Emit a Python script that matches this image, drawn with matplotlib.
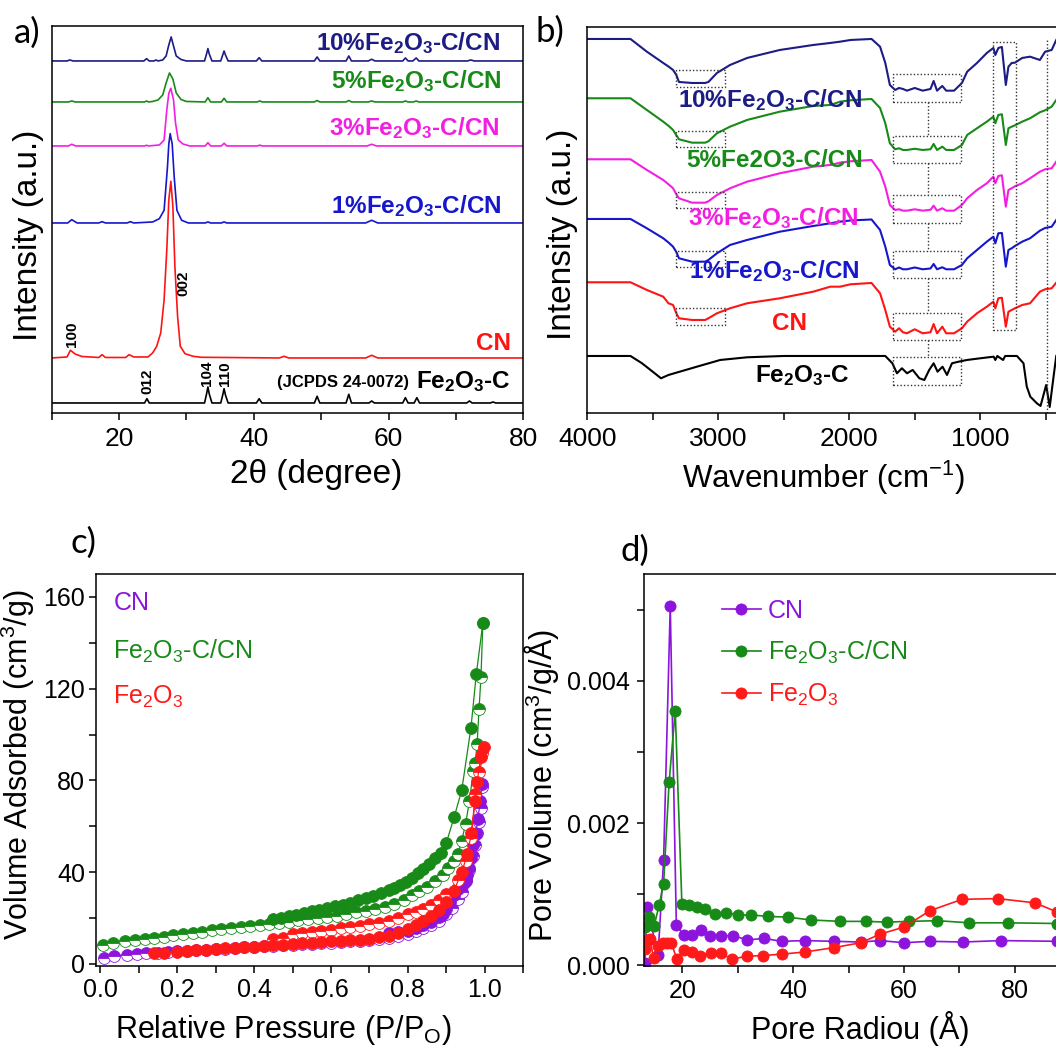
import numpy as np
import matplotlib
matplotlib.use("Agg")
import matplotlib.pyplot as plt
from matplotlib.ticker import MultipleLocator, FormatStrFormatter

plt.rcParams['font.family'] = ['Liberation Sans', 'DejaVu Sans']
plt.rcParams['mathtext.default'] = 'regular'

# ---------------- a) XRD ----------------
tt_10 = [10, 12.3, 12.7, 13.2, 23.7, 24.1, 24.5, 25.2, 25.5, 25.8, 26.5, 27.0, 27.4, 27.75, 28.1, 28.5, 29.2, 30.0,
         32.7, 33.0, 33.2, 33.4, 33.8, 35.1, 35.4, 35.6, 35.8, 36.2, 40.4, 40.8, 41.2, 49.0, 49.4, 49.8,
         53.7, 54.1, 54.5, 57.0, 57.5, 58.0, 62.1, 62.5, 62.9, 63.6, 64.1, 64.5, 71.7, 72.2, 72.7, 80]
i_10 = [0, 0, 1, 0, 0, 2.3, 0, 0, 1, 0, 1, 5, 16, 24, 15, 5, 1.5, 0,
        0, 7, 12.4, 7, 0, 0, 6, 10, 6, 0, 0, 3.3, 0, 0, 4, 0,
        0, 5, 0, 0, 1.7, 0, 0, 3, 0, 0, 3, 0, 0, 1, 0, 0]
tt_5 = [10, 12.5, 13.0, 13.5, 23.8, 24.1, 24.4, 25.0, 25.8, 26.5, 27.0, 27.5, 28.0, 28.5, 29.2, 30.0,
        32.8, 33.2, 33.6, 35.2, 35.6, 36.0, 40.5, 40.9, 41.3, 49.0, 49.4, 49.8, 53.7, 54.1, 54.5,
        57.0, 57.5, 58.0, 62.1, 62.5, 62.9, 63.7, 64.1, 64.5, 80]
i_5 = [0, 0, 1, 0, 0, 1, 0, 0.5, 2, 7, 19, 29, 23, 9, 2.5, 0.5,
       0, 4.3, 0, 0, 3.7, 0, 0, 1, 0, 0, 1.5, 0, 0, 1.5, 0,
       0, 1, 0, 0, 1, 0, 0, 1, 0, 0]
tt_3 = [10, 12.5, 13.0, 13.6, 23.8, 24.1, 24.4, 26.0, 26.7, 27.1, 27.4, 27.7, 28.1, 28.4, 28.8, 29.5, 30.5,
        32.8, 33.2, 33.6, 35.2, 35.6, 36.0, 40.5, 40.9, 41.3, 56.8, 57.5, 58.2, 80]
i_3 = [0, 0, 1.7, 0, 0, 0.7, 0, 1, 6, 36, 52.7, 57.7, 46, 22.7, 6, 2, 0,
       0, 3.3, 0, 0, 2.7, 0, 0, 0.8, 0, 0, 1.7, 0, 0]
tt_1 = [10, 12.4, 13.0, 13.8, 17.0, 17.5, 18.0, 21.2, 21.7, 22.2, 25.0, 26.0, 26.7, 27.2, 27.4, 27.6, 27.9,
        28.2, 28.6, 29.3, 30.3, 32.8, 33.2, 33.6, 35.2, 35.6, 36.0, 56.6, 57.5, 58.4, 80]
i_1 = [0, 0, 3.3, 0, 0, 1.3, 0, 0, 1.3, 0, 1, 4.3, 12.7, 56, 79, 89.3, 79,
       46, 12.7, 2.7, 0, 0, 1, 0, 0, 1, 0, 0, 2.7, 0, 0]
tt_cn = [10, 12.3, 12.8, 13.5, 14.5, 17.0, 17.5, 18.0, 21.0, 21.5, 22.2, 24.3, 25.0, 25.6, 26.2, 26.7, 27.1,
         27.4, 27.7, 28.0, 28.3, 28.7, 29.1, 29.8, 31.0, 32.2, 43.8, 44.5, 45.2, 56.6, 57.5, 58.4, 80]
i_cn = [0, 1, 7.7, 4, 1.5, 0.5, 3.3, 0.5, 0.5, 3.3, 1, 1, 5, 11.7, 25, 58, 108,
        158, 176.7, 151.7, 91.7, 41.7, 11.7, 4.3, 1.7, 0.7, 0, 1.7, 0, 0, 2.7, 0, 0]
tt_fe = [10, 23.8, 24.15, 24.5, 32.7, 33.0, 33.2, 33.4, 33.8, 35.1, 35.4, 35.6, 35.8, 36.2, 40.4, 40.8, 41.2,
         49.0, 49.4, 49.8, 53.7, 54.1, 54.5, 57.1, 57.5, 57.9, 62.1, 62.5, 62.9, 63.8, 64.2, 64.6,
         71.6, 72.0, 72.4, 75.1, 75.5, 75.9, 80]
i_fe = [0, 0, 4.3, 0, 0, 9, 16, 9, 0, 0, 8, 14.3, 8, 0, 0, 4.3, 0,
        0, 6.7, 0, 0, 8.7, 0, 0, 2, 0, 0, 5.3, 0, 0, 5.3, 0,
        0, 2, 0, 0, 1, 0, 0]
xrd_offsets = [354, 313, 269, 192, 57, 12]

# ---------------- b) FTIR ----------------
wn = [4000, 3670, 3545, 3420, 3380, 3345, 3320, 3300, 3200, 3100, 3075, 3010, 2910, 2780, 2530, 2275,
      2145, 2070, 1990, 1830, 1765, 1725, 1690, 1650, 1620, 1590, 1560, 1500, 1440, 1380, 1356, 1330,
      1290, 1260, 1200, 1140, 1100, 1025, 950, 900, 885, 862, 835, 805, 785, 760, 735, 680,
      620, 545, 505, 455, 420]
dep_10 = [0, 0, 12.7, 24, 27.5, 31, 36, 43, 44, 44, 43, 34, 26, 19, 11, 6,
          4, 2.7, 1, 0, 7.7, 24, 46, 51, 49, 50, 51.7, 49, 51.7, 50, 42, 51.7,
          47, 51.7, 51.7, 44, 32.7, 24, 14, 9, 16, 9, 8, 46, 27.7, 24, 23.7, 19,
          17.7, 21, 12.7, 11, 1]
dep_5 = [0, 0, 11.7, 23.4, 27.5, 31.7, 37, 41, 44.4, 44.4, 43, 35, 28.4, 21.7, 13.4, 7.7,
         6.7, 3.4, 2, 0.7, 9.7, 25, 45, 51, 50, 51.7, 51.7, 50.5, 51.7, 51, 45.7, 51.7,
         48.4, 51.7, 51.7, 46.7, 36.7, 30, 23.4, 18.4, 25, 16.7, 16, 46.7, 30, 28.4, 27, 23.4,
         20, 14, 12, 8.4, 1.7]
dep_3 = [0, 0, 10.7, 20.7, 25, 29, 35, 39, 43.4, 43.4, 42, 35.7, 29, 22.4, 14, 7.4,
         5.7, 3.4, 2, 0.7, 12.4, 27.4, 45.7, 50.7, 50, 51.4, 51.4, 50, 51.4, 50.5, 46.4, 51.4,
         49, 51.4, 51.4, 45.7, 39, 30.7, 24, 17.4, 24, 16.7, 16, 47.4, 30.7, 29, 27, 24,
         19, 12.4, 10, 9, 2.4]
dep_1 = [0, 0, 9.3, 19.3, 23.5, 27.7, 33, 39.3, 42.7, 42.7, 41, 34.3, 26, 21, 12.7, 7,
         4.3, 2.7, 1.5, 0.5, 11, 27.7, 46, 50.3, 48.5, 50.3, 50.3, 48.5, 50.3, 49.5, 45, 50.3,
         48.3, 50.3, 50.3, 46, 39.3, 31, 22.7, 17.7, 24.3, 14.3, 14, 47.7, 31, 29.3, 27, 22.7,
         19.3, 11.7, 9, 7.7, 1]
dep_cn = [0, 0, 7.7, 14.4, 21, 22.7, 31, 36, 37.7, 37.7, 36, 31, 26, 21, 16, 9.4,
          4.4, 4.4, 2, 0.7, 11, 27.7, 44.4, 49.4, 46, 50, 51, 47, 51, 50, 41.7, 51,
          44.4, 51, 51, 46, 39.4, 31, 24.4, 19.4, 26, 16, 15.5, 44.4, 29.4, 27.7, 26, 22.7,
          21, 9.4, 7, 6, 0.4]
wn_fe = [4000, 3670, 3582, 3485, 3437, 3380, 3163, 2985, 2779, 2500, 1725, 1671, 1636, 1598, 1559, 1516,
         1465, 1427, 1390, 1356, 1326, 1288, 1254, 1216, 1165, 1102, 1000, 898, 885, 870, 826, 810,
         720, 670, 645, 618, 568, 540, 497, 470, 440, 420]
dep_fe = [0, 0, 7.3, 17.3, 22.3, 19, 10.7, 4, 1.3, 0, 0, 7.3, 17.3, 12.3, 17.3, 14,
          22.3, 24, 14, 7.3, 15.7, 10.7, 19, 7.3, 5.7, 4, 2.3, 0.7, 4, 0, 4, 0,
          0, 7.3, 30.7, 40.7, 47.3, 50, 29, 51, 20, 0]
ftir_tops = [374.3, 315, 254, 194.3, 131, 57.3]

# dotted marker boxes (wavenumber range, y range)
box_oh_x = [3323, 2949]
box_oh_y = [[326.6, 343.3], [266, 282.6], [205, 221.6], [146.6, 162.6], [88.3, 105]]
box_cn_x = [1666, 1147]
box_cn_y = [[311.6, 339], [250, 277.3], [190.6, 218.3], [135, 162.3], [73.3, 100], [28.3, 56]]
box_tz_x = [903, 725]
box_tz_y = [83.3, 371.6]

# ---------------- c) N2 isotherms ----------------
cn_ads_p = [0.01, 0.035, 0.07, 0.095, 0.12, 0.15, 0.175, 0.2, 0.225, 0.25, 0.275, 0.3, 0.325, 0.35, 0.375, 0.4,
            0.425, 0.45, 0.475, 0.5, 0.525, 0.55, 0.575, 0.6, 0.625, 0.65, 0.675, 0.7, 0.725, 0.75, 0.775, 0.8,
            0.82, 0.84, 0.86, 0.88, 0.9, 0.915, 0.93, 0.94, 0.95, 0.96, 0.97, 0.975, 0.98, 0.985, 0.99, 0.993]
cn_ads_v = [2.7, 3.4, 4.1, 4.4, 4.6, 4.8, 5.1, 5.5, 5.8, 6.0, 6.3, 6.5, 6.7, 7.0, 7.3, 7.5,
            7.7, 7.9, 8.1, 8.3, 8.6, 8.8, 9.0, 9.3, 9.6, 9.9, 10.2, 10.5, 11.0, 11.5, 12.2, 13.0,
            14.2, 15.5, 17.2, 18.9, 21.8, 24.5, 28.5, 31.4, 36.0, 41.0, 47.0, 52.0, 57.0, 62.0, 68.0, 77.1]
cn_des_p = [0.993, 0.988, 0.982, 0.976, 0.97, 0.965, 0.96, 0.955, 0.95, 0.945, 0.94, 0.93, 0.92, 0.91, 0.9,
            0.89, 0.88, 0.86, 0.84, 0.82, 0.8, 0.775, 0.75]
cn_des_v = [78.6, 71.0, 63.0, 56.5, 52.0, 46.0, 41.7, 39.0, 36.6, 35.5, 34.4, 32.9, 29.9, 27.0, 24.0,
            22.0, 20.4, 18.5, 17.0, 15.5, 14.5, 13.8, 13.4]
fc_ads_p = [0.007, 0.033, 0.064, 0.09, 0.115, 0.14, 0.165, 0.19, 0.215, 0.24, 0.265, 0.29, 0.315, 0.34, 0.365,
            0.39, 0.415, 0.44, 0.465, 0.49, 0.515, 0.54, 0.565, 0.59, 0.615, 0.64, 0.665, 0.69, 0.715, 0.74,
            0.765, 0.79, 0.81, 0.83, 0.85, 0.87, 0.89, 0.905, 0.92, 0.93, 0.94, 0.95, 0.96, 0.97, 0.975, 0.98,
            0.985, 0.99, 0.995]
fc_ads_v = [8.1, 9.3, 9.8, 10.3, 10.8, 11.3, 11.8, 12.5, 13.0, 13.4, 14.0, 14.6, 15.1, 15.6, 16.1,
            16.6, 17.0, 17.5, 18.0, 18.5, 19.0, 19.5, 20.0, 20.5, 21.1, 21.8, 22.5, 23.2, 24.0, 25.0,
            26.2, 28.0, 30.0, 31.8, 33.5, 36.0, 39.0, 41.8, 44.7, 48.0, 53.8, 61.0, 71.0, 84.0, 87.5, 96.0,
            111.0, 125.0, 148.7]
fc_des_p = [0.995, 0.978, 0.964, 0.94, 0.92, 0.9, 0.885, 0.87, 0.855, 0.84, 0.825, 0.81, 0.795, 0.78, 0.765,
            0.75, 0.73, 0.71, 0.69, 0.67, 0.65, 0.63, 0.61, 0.59, 0.57, 0.55, 0.53, 0.51, 0.49, 0.47, 0.45]
fc_des_v = [148.7, 126.5, 103.0, 75.7, 63.9, 52.8, 48.5, 46.0, 43.5, 41.5, 39.5, 37.5, 35.8, 34.5, 33.3,
            32.2, 31.0, 29.8, 28.7, 27.7, 26.8, 25.9, 25.1, 24.3, 23.6, 22.9, 22.2, 21.5, 20.8, 20.2, 19.6]
fe_low_p = [0.14, 0.165, 0.2, 0.225, 0.25, 0.275, 0.3, 0.325, 0.35, 0.375, 0.4, 0.425, 0.45, 0.475, 0.5,
            0.525, 0.55, 0.575, 0.6, 0.625, 0.65, 0.675, 0.7, 0.725, 0.75, 0.775, 0.8, 0.82, 0.84, 0.86,
            0.88, 0.9, 0.92, 0.94, 0.955, 0.965, 0.975, 0.98, 0.99, 0.997]
fe_low_v = [4.6, 4.8, 5.3, 5.6, 5.9, 6.2, 6.5, 6.8, 7.0, 7.3, 7.6, 7.9, 8.1, 8.4, 8.7,
            9.0, 9.2, 9.5, 9.8, 10.0, 10.3, 10.6, 11.0, 11.6, 12.3, 13.5, 15.3, 17.0, 18.8, 21.0,
            23.5, 27.0, 32.0, 40.0, 48.0, 57.0, 71.0, 79.4, 90.4, 94.8]
fe_up_p = [0.45, 0.475, 0.5, 0.525, 0.55, 0.575, 0.6, 0.625, 0.65, 0.675, 0.7, 0.725, 0.75, 0.775, 0.8,
           0.82, 0.84, 0.86, 0.88, 0.9, 0.93, 0.95, 0.965, 0.975, 0.985, 0.992]
fe_up_v = [10.8, 11.3, 13.0, 13.4, 13.8, 14.3, 15.0, 15.5, 16.0, 16.6, 17.4, 18.0, 18.9, 20.0, 21.8,
           22.6, 23.8, 25.5, 27.7, 30.7, 36.6, 44.7, 55.0, 74.2, 83.8, 91.8]

# ---------------- d) pore size distribution ----------------
psd_cn_r = [13.2, 13.6, 15.6, 16.6, 17.8, 18.9, 20.2, 21.7, 23.3, 25.0, 27.0, 29.1, 31.7, 34.7, 38.0, 42.1,
            47.3, 52.2, 55.7, 60.0, 64.7, 70.6, 77.5, 87.7]
psd_cn_v = [0.00004, 0.00082, 0.00015, 0.00148, 0.00505, 0.00057, 0.00043, 0.00043, 0.00050, 0.00042, 0.00042,
            0.00042, 0.00036, 0.00038, 0.00034, 0.00035, 0.00034, 0.00033, 0.00035, 0.00032, 0.00034, 0.00033,
            0.00035, 0.00034]
psd_fc_r = [13.2, 13.9, 14.9, 15.8, 16.6, 17.6, 18.7, 19.9, 21.2, 22.6, 24.1, 25.8, 27.8, 30.1, 32.4, 35.5,
            39.0, 43.2, 48.5, 53.1, 56.9, 61.0, 66.0, 71.8, 78.8, 87.7]
psd_fc_v = [0.00054, 0.00068, 0.00056, 0.00085, 0.00115, 0.00258, 0.00358, 0.00087, 0.00085, 0.00082, 0.00079,
            0.00072, 0.00074, 0.00071, 0.00071, 0.00069, 0.00068, 0.00064, 0.00062, 0.00062, 0.00061, 0.00062,
            0.00063, 0.00060, 0.00060, 0.00059]
psd_fe_r = [13.2, 13.6, 14.1, 14.8, 15.6, 16.5, 17.3, 18.0, 19.0, 20.2, 21.7, 23.2, 25.1, 26.9, 29.0, 31.6,
            34.5, 38.0, 42.1, 47.3, 52.2, 55.7, 60.0, 64.7, 70.5, 77.0, 83.7, 87.7]
psd_fe_v = [0.00023, 0.00036, 0.00037, 0.00011, 0.00028, 0.00031, 0.00032, 0.00031, 0.00009, 0.00022, 0.00019,
            0.00013, 0.00017, 0.00017, 0.00009, 0.00013, 0.00014, 0.00016, 0.00019, 0.00025, 0.00032, 0.00044,
            0.00054, 0.00077, 0.00093, 0.00094, 0.00088, 0.00075]

c_navy, c_green, c_mag, c_blue, c_red = '#1c1c84', '#178a17', '#f41ee2', '#1616cc', '#ff1414'
c_purple, c_grn2, c_red2 = '#8c14dc', '#178a17', '#ff1a1a'

fig = plt.figure(figsize=(10.56, 10.5), dpi=100)


def style_axis(ax, size):
    for s in ax.spines.values():
        s.set_linewidth(1.1)
    ax.tick_params(which='both', direction='out', length=5, width=1.1, labelsize=size,
                   top=False, right=False)


# ---- panel a ----
ax = fig.add_axes([0.0488, 0.6064, 0.4468, 0.3684])
xrd = [(tt_10, i_10, c_navy), (tt_5, i_5, c_green), (tt_3, i_3, c_mag),
       (tt_1, i_1, c_blue), (tt_cn, i_cn, c_red), (tt_fe, i_fe, 'black')]
for (tt, ii, col), off in zip(xrd, xrd_offsets):
    ax.plot(tt, np.array(ii) + off, color=col, lw=1.2)
ax.set_xlim(10, 80)
ax.set_ylim(1.7, 388.5)
ax.set_yticks([])
ax.xaxis.set_major_locator(MultipleLocator(20))
ax.xaxis.set_minor_locator(MultipleLocator(10))
style_axis(ax, 19)
ax.tick_params(axis='x', which='both', pad=5)
ax.set_xlabel('2θ (degree)', fontsize=24)
ax.xaxis.set_label_coords(0.56, -0.118)
ax.set_ylabel('Intensity (a.u.)', fontsize=24)
ax.yaxis.set_label_coords(-0.016, 0.461)
lab_kw = dict(fontsize=17.5, fontweight='bold', ha='right', va='baseline')
ax.text(76.5, 365, '10%Fe$_2$O$_3$-C/CN', color=c_navy, **lab_kw)
ax.text(76.8, 326.7, '5%Fe$_2$O$_3$-C/CN', color=c_green, **lab_kw)
ax.text(76.5, 280, '3%Fe$_2$O$_3$-C/CN', color=c_mag, **lab_kw)
ax.text(76.8, 202.3, '1%Fe$_2$O$_3$-C/CN', color=c_blue, **lab_kw)
ax.text(78.2, 65, 'CN', color=c_red, **lab_kw)
ax.text(78.1, 26.7, 'Fe$_2$O$_3$-C', color='black', **lab_kw)
ax.text(63.0, 28.3, '(JCPDS 24-0072)', fontsize=12, fontweight='bold', ha='right', va='baseline')
hkl_kw = dict(fontsize=11, fontweight='bold', rotation=90, ha='center', va='center')
ax.text(13.0, 81, '100', **hkl_kw)
ax.text(29.5, 131.7, '002', **hkl_kw)
ax.text(24.2, 33.3, '012', **hkl_kw)
ax.text(33.1, 41.3, '104', **hkl_kw)
ax.text(35.8, 41, '110', **hkl_kw)

# ---- panel b ----
ax = fig.add_axes([0.5561, 0.6064, 0.4666, 0.3682])
ftir = [(dep_10, c_navy), (dep_5, c_green), (dep_3, c_mag), (dep_1, c_blue), (dep_cn, c_red)]
for (dep, col), top in zip(ftir, ftir_tops[:5]):
    ax.plot(wn, top - np.array(dep), color=col, lw=1.5)
ax.plot(wn_fe, ftir_tops[5] - np.array(dep_fe), color='black', lw=1.5)
dot = dict(color='#333333', lw=1.0, ls=(0, (1, 1.5)))
for y0, y1 in box_oh_y:
    ax.plot([box_oh_x[0], box_oh_x[1], box_oh_x[1], box_oh_x[0], box_oh_x[0]], [y0, y0, y1, y1, y0], **dot)
for y0, y1 in box_cn_y:
    ax.plot([box_cn_x[0], box_cn_x[1], box_cn_x[1], box_cn_x[0], box_cn_x[0]], [y0, y0, y1, y1, y0], **dot)
for k in range(len(box_cn_y) - 1):
    ax.plot([1402, 1402], [box_cn_y[k][0], box_cn_y[k + 1][1]], **dot)
ax.plot([box_tz_x[0], box_tz_x[1], box_tz_x[1], box_tz_x[0], box_tz_x[0]],
        [box_tz_y[0], box_tz_y[0], box_tz_y[1], box_tz_y[1], box_tz_y[0]], **dot)
ax.plot([490, 490], [0, 373.3], **dot)
ax.set_xlim(4000, 239)
ax.set_ylim(0, 386.6)
ax.set_yticks([])
ax.xaxis.set_major_locator(MultipleLocator(1000))
ax.xaxis.set_minor_locator(MultipleLocator(500))
style_axis(ax, 19)
ax.tick_params(axis='x', which='both', pad=5)
ax.set_xlabel('Wavenumber (cm$^{-1}$)', fontsize=22.5)
ax.xaxis.set_label_coords(0.48, -0.118)
ax.set_ylabel('Intensity (a.u.)', fontsize=24)
ax.yaxis.set_label_coords(-0.019, 0.464)
lab_kw = dict(fontsize=17.5, fontweight='bold', ha='left', va='baseline')
ax.text(3305, 306.3, '10%Fe$_2$O$_3$-C/CN', color=c_navy, **lab_kw)
ax.text(3241, 246.3, '5%Fe2O3-C/CN', color=c_green, **lab_kw)
ax.text(3231, 188, '3%Fe$_2$O$_3$-C/CN', color=c_mag, **lab_kw)
ax.text(3224, 134.7, '1%Fe$_2$O$_3$-C/CN', color=c_blue, **lab_kw)
ax.text(2592, 83, 'CN', color=c_red, **lab_kw)
ax.text(2720, 31.3, 'Fe$_2$O$_3$-C', color='black', **lab_kw)

# ---- panel c ----
ax = fig.add_axes([0.0906, 0.0804, 0.4049, 0.3729])
mk = dict(marker='o', ms=8.5, lw=0.9, mew=0.6)
ax.plot(cn_ads_p, cn_ads_v, color=c_purple, mfc=c_purple, mec=c_purple, fillstyle='top',
        markerfacecoloralt='white', **mk)
ax.plot(cn_des_p, cn_des_v, color=c_purple, mfc=c_purple, mec=c_purple, **mk)
ax.plot(fc_ads_p, fc_ads_v, color=c_grn2, mfc=c_grn2, mec=c_grn2, fillstyle='top',
        markerfacecoloralt='white', **mk)
ax.plot(fc_des_p, fc_des_v, color=c_grn2, mfc=c_grn2, mec=c_grn2, **mk)
ax.plot(fe_up_p, fe_up_v, color=c_red2, mfc=c_red2, mec=c_red2, fillstyle='top',
        markerfacecoloralt='white', **mk)
ax.plot(fe_low_p, fe_low_v, color=c_red2, mfc=c_red2, mec=c_red2, **mk)
ax.set_xlim(-0.012, 1.10)
ax.set_ylim(-0.7, 170)
ax.xaxis.set_major_locator(MultipleLocator(0.2))
ax.xaxis.set_minor_locator(MultipleLocator(0.1))
ax.yaxis.set_major_locator(MultipleLocator(40))
ax.yaxis.set_minor_locator(MultipleLocator(20))
style_axis(ax, 18)
ax.tick_params(axis='y', which='both', pad=2.5)
ax.tick_params(axis='x', which='both', pad=4)
ax.set_xlabel('Relative Pressure (P/P$_O$)', fontsize=22)
ax.xaxis.set_label_coords(0.438, -0.121)
ax.set_ylabel('Volume Adsorbed (cm$^3$/g)', fontsize=22)
ax.yaxis.set_label_coords(-0.137, 0.512)
ax.text(0.034, 154.5, 'CN', color=c_purple, fontsize=18, va='baseline')
ax.text(0.034, 133.2, 'Fe$_2$O$_3$-C/CN', color=c_grn2, fontsize=18, va='baseline')
ax.text(0.034, 113.3, 'Fe$_2$O$_3$', color=c_red2, fontsize=18, va='baseline')

# ---- panel d ----
ax = fig.add_axes([0.6098, 0.0798, 0.4129, 0.3734])
mk = dict(marker='o', ms=8, lw=1.2, mew=0.6)
ax.plot(psd_cn_r, psd_cn_v, color=c_purple, mfc=c_purple, mec=c_purple, label='CN', **mk)
ax.plot(psd_fc_r, psd_fc_v, color=c_grn2, mfc=c_grn2, mec=c_grn2, label='Fe$_2$O$_3$-C/CN', **mk)
ax.plot(psd_fe_r, psd_fe_v, color=c_red2, mfc=c_red2, mec=c_red2, label='Fe$_2$O$_3$', **mk)
ax.set_xlim(13.05, 91.8)
ax.set_ylim(-0.00001, 0.0055)
ax.xaxis.set_major_locator(MultipleLocator(20))
ax.xaxis.set_minor_locator(MultipleLocator(10))
ax.yaxis.set_major_locator(MultipleLocator(0.002))
ax.yaxis.set_minor_locator(MultipleLocator(0.001))
ax.yaxis.set_major_formatter(FormatStrFormatter('%.3f'))
style_axis(ax, 18)
ax.tick_params(axis='y', which='both', pad=5)
ax.tick_params(axis='x', which='both', pad=4)
ax.set_xlabel('Pore Radiou (Å)', fontsize=22)
ax.xaxis.set_label_coords(0.496, -0.114)
ax.set_ylabel('Pore Volume (cm$^3$/g/Å)', fontsize=22)
ax.yaxis.set_label_coords(-0.19, 0.46)
ax.legend(loc='upper left', bbox_to_anchor=(0.179, 0.936), frameon=False, fontsize=18,
          handlelength=1.55, handletextpad=0.3, labelspacing=0.62, labelcolor='linecolor',
          borderaxespad=0, borderpad=0)

# panel letters
let_kw = dict(family=['Lato', 'DejaVu Sans'], fontsize=25)
fig.text(14 / 1056, 1 - 43 / 1050, 'a)', **let_kw)
fig.text(535 / 1056, 1 - 42 / 1050, 'b)', **let_kw)
fig.text(70 / 1056, 1 - 553 / 1050, 'c)', fontsize=25, family=['Lato', 'DejaVu Sans'])
fig.text(621 / 1056, 1 - 561 / 1050, 'd)', fontsize=25, family=['Lato', 'DejaVu Sans'])

fig.savefig('out.png', dpi=100)
